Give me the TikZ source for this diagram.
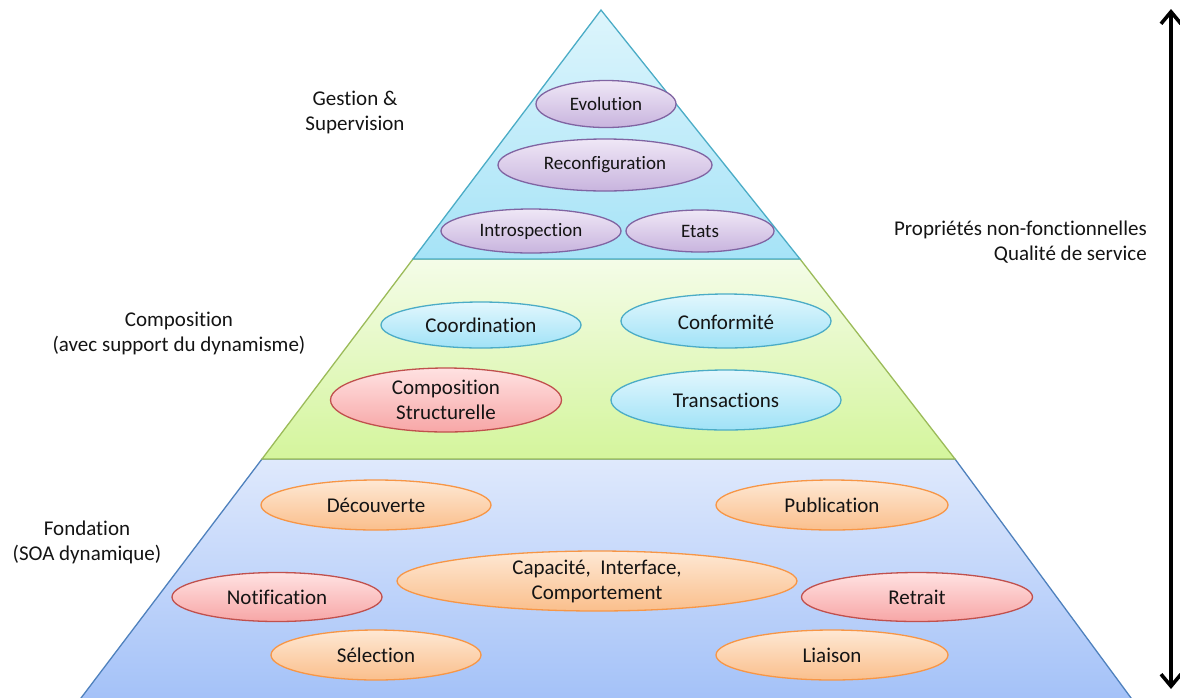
\documentclass[tikz,border=0pt]{standalone}
\usepackage{fontspec}
\setmainfont{Carlito}[Ligatures={NoCommon}]
\usetikzlibrary{shapes.geometric,arrows.meta}
\definecolor{topT}{HTML}{DDF5FC}
\definecolor{topB}{HTML}{A6E3F7}
\definecolor{topD}{HTML}{4BACC6}
\definecolor{midT}{HTML}{F4FCE8}
\definecolor{midB}{HTML}{D4F59C}
\definecolor{midD}{HTML}{9BBB59}
\definecolor{botT}{HTML}{DFE9FC}
\definecolor{botB}{HTML}{A3C1F8}
\definecolor{botD}{HTML}{4F81BD}
\definecolor{purT}{HTML}{EFE7F6}
\definecolor{purB}{HTML}{C8B4DE}
\definecolor{purD}{HTML}{8064A2}
\definecolor{bluT}{HTML}{E2F7FD}
\definecolor{bluB}{HTML}{A0E2F7}
\definecolor{bluD}{HTML}{4BACC6}
\definecolor{redT}{HTML}{FFE2E2}
\definecolor{redB}{HTML}{F7A6A6}
\definecolor{redD}{HTML}{C0504D}
\definecolor{oraT}{HTML}{FEE8D4}
\definecolor{oraB}{HTML}{FABF8C}
\definecolor{oraD}{HTML}{F79646}
\definecolor{ink}{HTML}{141414}
\begin{document}
\begin{tikzpicture}[x=1pt,y=-1pt,
  ell/.style={ellipse, inner sep=0pt, line width=1.3pt},
  pur/.style={ell, draw=purD, top color=purT, bottom color=purB},
  blu/.style={ell, draw=bluD, top color=bluT, bottom color=bluB},
  rdd/.style={ell, draw=redD, top color=redT, bottom color=redB},
  ora/.style={ell, draw=oraD, top color=oraT, bottom color=oraB},
  txt/.style={font=\fontsize{21}{25}\selectfont, align=center, text=ink, inner sep=0pt},
  txts/.style={font=\fontsize{19}{25}\selectfont, align=center, text=ink, inner sep=0pt},
  lab/.style={font=\fontsize{21}{25}\selectfont, align=center, text=ink, inner sep=0pt}]
\useasboundingbox (0,0) rectangle (1180,697);
% pyramid
\coordinate (A) at (601,10);
\coordinate (TL) at (413,259);
\coordinate (TR) at (800,259);
\coordinate (ML) at (262,459);
\coordinate (MR) at (955,459);
\coordinate (BL) at (78,702);
\coordinate (BR) at (1134,702);
\path[draw=botD, line width=1.3pt, top color=botT, bottom color=botB] (ML) -- (MR) -- (BR) -- (BL) -- cycle;
\path[draw=midD, line width=1.3pt, top color=midT, bottom color=midB] (TL) -- (TR) -- (MR) -- (ML) -- cycle;
\path[draw=topD, line width=1.3pt, top color=topT, bottom color=topB] (A) -- (TR) -- (TL) -- cycle;
% top tier
\node[pur, minimum width=140, minimum height=47] (evo) at (606,104) {};
\node[txts] at (evo.center) {Evolution};
\node[pur, minimum width=214, minimum height=52] (rec) at (605,165) {};
\node[txts] at (rec.center) {Reconfiguration};
\node[pur, minimum width=180, minimum height=44] (intro) at (531,231) {};
\node[txts] at (intro.center) {Introspection};
\node[pur, minimum width=148, minimum height=42] (etat) at (700,231) {};
\node[txts] at (etat.center) {Etats};
% middle tier
\node[blu, minimum width=200, minimum height=46] (coord) at (481,325) {};
\node[txt] at (coord.center) {Coordination};
\node[blu, minimum width=210, minimum height=54] (conf) at (726,321) {};
\node[txt] at ([yshift=-1]conf.center) {Conformité};
\node[rdd, minimum width=231, minimum height=64] (cstr) at (446,400) {};
\node[txt] at (cstr.center) {Composition\\Structurelle};
\node[blu, minimum width=230, minimum height=60] (trans) at (726,400) {};
\node[txt] at (trans.center) {Transactions};
% bottom tier
\node[ora, minimum width=230, minimum height=50] (dec) at (376,505) {};
\node[txt] at (dec.center) {Découverte};
\node[ora, minimum width=232, minimum height=50] (pub) at (832,505) {};
\node[txt] at (pub.center) {Publication};
\node[ora, minimum width=400, minimum height=60] (cap) at (597,581) {};
\node[txt] at (cap.center) {Capacité,~ Interface,\\Comportement};
\node[rdd, minimum width=210, minimum height=49] (notif) at (277,597) {};
\node[txt] at (notif.center) {Notification};
\node[rdd, minimum width=231, minimum height=49] (retr) at (917,597) {};
\node[txt] at (retr.center) {Retrait};
\node[ora, minimum width=210, minimum height=50] (sel) at (376,655) {};
\node[txt] at (sel.center) {Sélection};
\node[ora, minimum width=232, minimum height=50] (lia) at (832,655) {};
\node[txt] at (lia.center) {Liaison};
% labels
\node[lab] (gest) at (355,112) {Gestion \&\\Supervision};
\node[lab] (comp) at (179,333) {Composition\\(avec support du dynamisme)};
\node[lab] (fond) at (87,542) {Fondation\\(SOA dynamique)};
\node[lab, align=right, anchor=east] (qos) at (1147,242) {Propriétés non-fonctionnelles\\Qualité de service};
% arrow
\coordinate (up) at (1171,9);
\coordinate (dn) at (1171,689);
\draw[line width=3.6pt, {Straight Barb[length=12pt,width=20pt]}-{Straight Barb[length=12pt,width=20pt]}] (up) -- (dn);
\end{tikzpicture}
\end{document}
